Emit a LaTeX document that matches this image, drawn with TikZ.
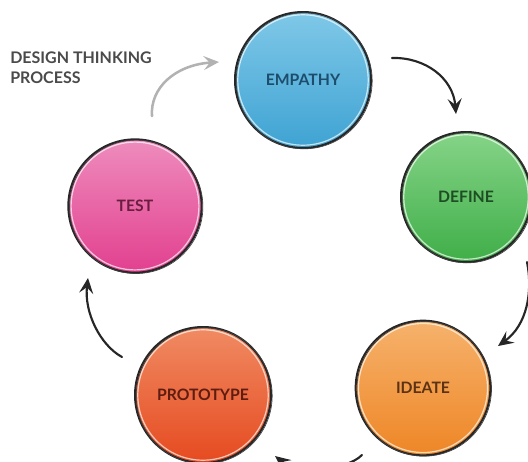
\documentclass[tikz,border=0pt]{standalone}
\usepackage{fontspec}
\setmainfont{Lato}
\usetikzlibrary{arrows.meta,calc}
\definecolor{empB}{HTML}{3FA3D3}\definecolor{empT}{HTML}{7FC8E8}\definecolor{empX}{HTML}{1E4D6B}
\definecolor{defB}{HTML}{3FAE48}\definecolor{defT}{HTML}{86D488}\definecolor{defX}{HTML}{1F4D23}
\definecolor{ideB}{HTML}{EE8626}\definecolor{ideT}{HTML}{F6B26C}\definecolor{ideX}{HTML}{5C3214}
\definecolor{proB}{HTML}{E64A20}\definecolor{proT}{HTML}{F08B63}\definecolor{proX}{HTML}{5E1D10}
\definecolor{tstB}{HTML}{E2408F}\definecolor{tstT}{HTML}{EE8CBD}\definecolor{tstX}{HTML}{6B1D40}
\definecolor{ttl}{HTML}{4A4A4A}
\begin{document}
\begin{tikzpicture}[x=0.75pt,y=-0.75pt,
  ball/.style={circle, draw=black!85, line width=1.5pt, inner sep=0pt,
    font=\bfseries\fontsize{11.8}{12}\selectfont},
  rim/.style={white, line width=0.9pt, opacity=0.7},
  sk/.style={black!75, line width=0.5pt},
  arr/.style={line width=1.6pt, draw=black!85, line cap=round,
    -{Stealth[length=11.5pt,width=10.5pt,inset=4.5pt]}},
  title/.style={anchor=base west, inner sep=0pt, text=ttl,
    font=\bfseries\fontsize{12}{13}\selectfont}
]
\useasboundingbox (0,0) rectangle (528,461);
\clip (0,0) rectangle (528,461);

% title
\node[title] (t1) at (10,63) {DESIGN THINKING};
\node[title] (t2) at (10,83) {PROCESS};

% circles
\node[ball, minimum size=102pt, top color=empT, bottom color=empB, text=empX] (emp) at (303,80) {EMPATHY};
\node[ball, minimum size=97.5pt, top color=defT, bottom color=defB, text=defX] (def) at (466,197) {DEFINE};
\node[ball, minimum size=101pt, top color=ideT, bottom color=ideB, text=ideX] (ide) at (423,388) {IDEATE};
\node[ball, minimum size=102pt, top color=proT, bottom color=proB, text=proX] (pro) at (203,395) {PROTOTYPE};
\node[ball, minimum size=100pt, top color=tstT, bottom color=tstB, text=tstX] (tst) at (135,206) {TEST};

% sketchy outlines and rims
\foreach \n/\r in {emp/68, def/65, ide/67.3, pro/68, tst/66.7}{
  \draw[sk] ($(\n.center)+(1.2,0.8)$) circle[radius=\r];
  \draw[rim] (\n.center) circle[radius=\r-2.8];
}

% arrow end points
\coordinate (a1s) at (152,116);
\coordinate (a1e) at (219,62);
\coordinate (a2s) at (392,58);
\coordinate (a2e) at (456,114);
\coordinate (a3s) at (527,262);
\coordinate (a3e) at (498,346);
\coordinate (a4s) at (362,455);
\coordinate (a4e) at (275,456);
\coordinate (a5s) at (122,357);
\coordinate (a5e) at (88,278);

\draw[arr, draw=black!30, line width=1.9pt] (a1s) .. controls (150,88) and (175,65) .. (a1e);
\draw[arr] (a2s) .. controls (425,57) and (453,78) .. (a2e);
\draw[arr] (a3s) .. controls (533,292) and (527,325) .. (a3e);
\draw[arr] (a4s) .. controls (345,472) and (295,472) .. (a4e);
\draw[arr] (a5s) .. controls (100,345) and (84,312) .. (a5e);
\end{tikzpicture}
\end{document}
